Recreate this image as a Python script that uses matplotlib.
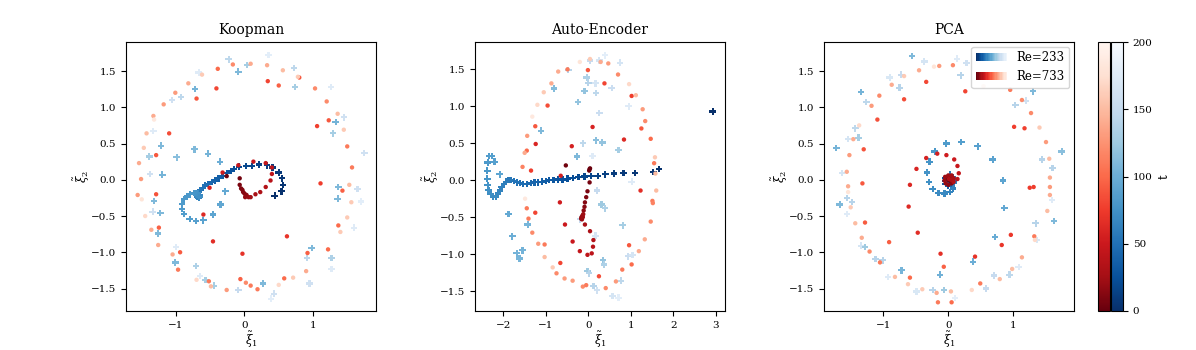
import numpy as np
import matplotlib
matplotlib.use("Agg")
import matplotlib.pyplot as plt
from matplotlib.legend_handler import HandlerBase
from matplotlib.patches import Rectangle
from matplotlib.colors import Normalize
from matplotlib.cm import ScalarMappable

plt.rcParams['font.family'] = 'DejaVu Serif'
plt.rcParams['mathtext.fontset'] = 'dejavuserif'

titles = ["Koopman", "Auto-Encoder", "PCA"]
labels = ["Re=233", "Re=733"]
t_min, t_max = 0, 200
cb_ticks = [0, 50, 100, 150, 200]

# (x, y, t) per point
koop_blue = [
    (0.44,-0.22,0),(0.54,-0.16,2),(0.56,-0.07,4),(0.55,0.02,6),(0.50,0.10,8),(0.41,0.17,10),(0.33,0.20,12),
    (0.21,0.21,14),(0.11,0.19,16),(0.02,0.19,18),(-0.08,0.18,21),(-0.15,0.15,24),(-0.20,0.12,27),(-0.26,0.09,30),
    (-0.32,0.05,33),(-0.38,0.02,36),(-0.43,-0.01,39),(-0.48,-0.03,42),(-0.53,-0.06,45),(-0.58,-0.08,48),
    (-0.61,-0.11,51),(-0.65,-0.14,54),(-0.67,-0.17,57),(-0.68,-0.20,60),(-0.66,-0.22,62),(-0.69,-0.23,64),
    (-0.67,-0.25,66),(-0.65,-0.21,68),(-0.70,-0.21,70),(-0.68,-0.19,72),(-0.66,-0.24,74),(-0.70,-0.18,76),
    (-0.74,-0.18,78),(-0.79,-0.20,80),(-0.84,-0.23,81),(-0.88,-0.27,82),(-0.91,-0.33,83),(-0.91,-0.40,84),
    (-0.88,-0.47,85),(-0.80,-0.54,86),(-0.71,-0.57,88),(-0.60,-0.56,90),(-0.46,-0.48,92),(-0.35,-0.34,94),
    (-0.28,-0.16,96),(-0.36,0.25,100),(-0.53,0.36,105),(-0.73,0.42,110),(-0.99,0.31,115),
    (-0.23,1.66,145),(0.35,1.72,180),(0.04,1.58,130),(0.72,1.54,145),(-0.09,1.49,110),(-0.67,1.48,175),
    (0.74,1.28,130),(1.26,1.28,175),(-0.72,1.25,105),(-0.93,1.14,145),(-1.06,1.10,160),(1.33,0.80,105),
    (1.45,0.86,160),(-1.33,0.67,175),(1.29,0.64,130),(-1.22,0.47,110),(1.75,0.37,160),(-1.39,0.32,130),
    (-1.38,0.08,160),(-1.20,0.07,105),(1.37,-0.10,110),(1.65,-0.13,160),(-1.32,-0.29,110),(1.36,-0.26,110),
    (1.70,-0.30,180),(-1.34,-0.44,160),(-1.23,-0.46,110),(-1.26,-0.74,110),(1.60,-0.66,175),(0.98,-0.94,110),
    (0.91,-1.08,145),(-1.00,-0.93,175),(1.27,-1.08,135),(-1.01,-1.14,110),(1.27,-1.23,175),(-0.71,-1.19,135),
    (-0.65,-1.33,175),(-0.57,-1.38,130),(-0.45,-1.46,130),(0.27,-1.43,110),(0.95,-1.43,160),(-0.09,-1.52,150),
    (0.43,-1.57,160),(0.39,-1.64,180),
]
koop_red = [
    (-0.26,0.05,2),(-0.07,0.02,5),(-0.07,-0.07,8),(-0.05,-0.12,10),(-0.03,-0.14,11),(-0.02,-0.17,12),
    (0.00,-0.19,14),(0.03,-0.21,16),(0.02,-0.22,17),(0.01,-0.24,18),(0.06,-0.24,20),(0.09,-0.24,24),
    (0.16,-0.20,28),(0.23,-0.17,31),(0.31,-0.10,34),(0.38,-0.01,37),(0.40,0.08,40),(0.40,0.17,42),
    (0.31,0.23,44),(0.13,0.25,46),(-0.09,0.20,48),(-0.32,0.10,52),(-0.51,-0.11,56),(-0.60,-0.48,62),
    (-0.46,-0.85,65),(-0.03,-1.02,68),(0.62,-0.78,70),(1.11,-0.05,75),(1.06,0.74,78),(0.34,1.36,80),
    (-0.41,1.26,82),(-1.10,0.64,85),(-1.29,-0.20,88),(-0.94,-1.00,92),(-0.06,-1.37,95),(0.92,-1.01,95),
    (1.43,-0.15,95),(1.23,0.82,90),(0.50,1.30,95),(-0.70,1.12,90),(-1.29,0.34,90),(-1.25,-0.66,95),
    (1.22,-0.96,100),(1.37,-0.63,100),(0.58,-1.36,100),(-0.39,1.53,100),(0.80,1.41,90),(1.50,0.46,110),
    (1.57,0.17,110),(-0.52,-1.40,110),(-0.97,-1.24,110),(0.09,-1.46,110),(0.19,-1.51,110),(0.02,-1.42,120),
    (1.03,1.26,120),(1.20,1.08,120),(-0.17,1.59,120),(-1.51,0.01,130),(-1.56,-0.21,130),(-1.01,1.20,130),
    (-1.18,1.04,130),(-0.26,-1.52,130),(-1.54,0.23,140),(-1.33,0.88,140),(-0.82,1.33,140),(0.09,1.60,140),
    (0.33,1.58,140),(-1.36,-0.69,140),(-1.26,-0.90,140),(-1.05,-1.03,140),(0.90,-1.26,140),(1.36,0.91,150),
    (-1.43,0.64,150),(1.53,-0.07,150),(-0.49,-1.47,150),(0.56,1.51,150),(-1.47,0.44,160),(-0.62,1.45,160),
    (1.45,0.69,160),(1.56,-0.31,160),(1.50,-0.52,160),(1.40,-0.72,160),(0.71,-1.35,160),(-1.45,-0.50,170),
    (-0.70,-1.38,170),(0.50,-1.45,170),(-1.50,-0.27,180),(-1.32,0.83,185),(0.78,1.42,160),
]
ae_blue = [
    (2.93,0.93,0),(1.67,0.15,2),(1.53,0.11,4),(1.10,0.10,6),(0.83,0.10,8),(0.60,0.09,10),(0.40,0.08,12),
    (0.23,0.06,14),(0.07,0.06,16),(-0.09,0.05,18),(-0.23,0.04,20),(-0.37,0.03,22),(-0.49,0.02,24),
    (-0.61,0.01,26),(-0.72,0.01,28),(-0.82,0.00,30),(-0.92,0.00,32),(-1.00,-0.01,34),(-1.10,-0.02,36),
    (-1.18,-0.03,38),(-1.27,-0.03,40),(-1.36,-0.04,42),(-1.44,-0.05,44),(-1.53,-0.05,46),(-1.61,-0.04,48),
    (-1.69,-0.03,50),(-1.76,-0.01,52),(-1.83,0.00,54),(-1.88,0.00,56),(-1.94,-0.02,58),(-1.99,-0.05,60),
    (-2.04,-0.09,62),(-2.08,-0.14,64),(-2.13,-0.18,66),(-2.18,-0.22,68),(-2.24,-0.22,70),(-2.30,-0.19,72),
    (-2.35,-0.13,74),(-2.37,-0.07,76),(-2.38,0.02,78),(-2.38,0.13,80),(-2.37,0.24,82),(-2.34,0.33,84),
    (-2.27,0.33,86),(-2.21,0.25,88),(-2.09,0.08,92),(-1.88,-0.46,96),(-1.79,-0.76,100),(-1.69,-0.99,104),
    (-1.55,-0.95,104),(-1.62,-1.06,106),(-1.43,-0.60,106),(-1.11,0.67,110),(-0.81,1.24,112),(-0.47,1.49,140),
    (-0.24,1.06,120),(-0.09,1.21,120),(-0.04,1.39,135),(0.00,1.32,140),(0.18,1.18,145),(0.26,0.91,155),
    (0.17,1.31,165),(0.04,1.62,150),(0.26,1.62,165),(0.39,1.69,180),(0.75,1.59,165),(0.55,1.25,155),
    (0.95,1.00,175),(0.18,0.54,115),(0.33,0.51,120),(-0.12,0.50,145),(-0.27,0.32,110),(0.10,0.33,175),
    (0.71,0.41,130),(1.02,-0.02,175),(0.21,-0.14,150),(0.31,-0.33,125),(0.39,-0.38,135),(0.81,-0.61,130),
    (0.17,-0.75,165),(-0.20,-0.53,150),(0.34,-1.08,120),(0.37,-1.14,135),(0.94,-1.03,155),(-0.02,-1.23,125),
    (0.02,-1.26,140),(0.12,-1.43,140),(0.20,-1.49,160),(0.57,-1.57,165),(0.71,-1.59,180),(0.77,-1.36,145),
    (1.04,-1.01,165),
]
ae_red = [
    (0.04,0.16,0),(0.02,0.13,1),(0.03,0.15,2),(-0.53,0.20,4),(0.03,-0.03,6),(-0.02,-0.15,8),(-0.05,-0.23,10),
    (-0.08,-0.30,12),(-0.09,-0.36,14),(-0.11,-0.41,16),(-0.16,-0.50,18),(-0.14,-0.48,19),(-0.17,-0.52,20),
    (-0.15,-0.53,21),(-0.13,-0.50,22),(-0.12,-0.46,23),(-0.08,-0.60,28),(0.04,-0.69,31),(0.12,-0.81,34),
    (0.11,-0.90,37),(0.08,-0.99,40),(-0.02,-1.01,42),(-0.20,-0.96,45),(-0.37,-0.83,48),(-0.55,-0.60,50),
    (-0.67,-0.30,53),(-0.65,0.06,55),(-0.39,0.46,57),(0.10,0.72,58),(0.84,0.55,62),(1.23,-0.14,66),
    (1.02,1.14,75),(0.38,1.31,80),(-0.01,1.49,90),(-0.96,1.01,85),(-1.25,0.73,90),(-1.45,0.40,100),
    (-1.55,0.18,115),(-1.45,-0.38,110),(-1.25,-0.44,80),(-1.41,-0.52,110),(-1.32,-0.71,120),(-1.18,-0.86,130),
    (-1.03,-0.87,110),(-1.03,-1.04,150),(-0.84,-1.18,160),(-0.66,-1.12,80),(-0.75,-1.26,120),(-0.56,-1.33,130),
    (-0.37,-1.36,130),(-0.13,-1.44,120),(-0.05,-1.42,110),(0.25,-1.30,85),(0.41,-1.46,120),(0.65,-1.37,130),
    (0.80,-1.21,110),(1.02,-1.14,100),(0.96,-0.88,90),(1.19,-0.96,140),(1.33,-0.80,140),(1.47,-0.56,120),
    (1.51,-0.28,110),(1.52,-0.31,115),(1.60,-0.14,150),(1.58,0.09,150),(1.55,0.23,110),(1.57,0.31,160),
    (1.47,0.56,100),(1.34,0.80,120),(1.28,0.96,130),(1.25,0.70,90),(1.12,1.15,150),(0.96,1.30,170),
    (0.70,1.43,120),(0.47,1.58,130),(0.29,1.60,140),(0.04,1.64,160),(-0.20,1.60,180),(-0.49,1.50,110),
    (-0.71,1.47,140),(-0.87,1.31,140),(-1.05,1.19,160),(-1.20,1.02,170),(-1.32,0.86,185),(-1.44,0.60,130),
    (-1.50,0.37,140),(-1.49,-0.25,185),(-1.35,0.13,75),(-1.24,0.49,60),
]
pca_blue = [
    (0.03,-0.01,0),(0.02,0.01,3),(0.00,0.00,6),(0.07,-0.02,10),(0.06,0.02,14),(0.03,0.04,18),(-0.01,0.04,22),
    (-0.04,0.02,26),(-0.05,-0.02,30),(-0.04,-0.06,34),(0.00,-0.08,38),(0.04,-0.07,42),(0.07,-0.05,46),
    (0.08,-0.01,50),(0.07,0.04,54),(0.03,0.07,58),
    (0.09,-0.05,62),(0.07,-0.12,64),(0.02,-0.17,66),(-0.06,-0.19,68),(-0.15,-0.18,70),(-0.24,-0.13,72),
    (-0.30,-0.03,74),(-0.33,0.10,76),(-0.29,0.25,78),(-0.21,0.39,80),(-0.03,0.50,83),(0.20,0.52,86),
    (0.45,0.46,88),(0.68,0.28,90),(0.84,-0.01,92),(0.86,-0.39,95),(0.72,-0.79,98),(0.38,-1.13,100),
    (-0.13,-1.31,103),(-0.72,-1.25,106),
    (-0.56,1.71,110),(-0.37,1.63,165),(0.13,1.67,175),(0.28,1.61,160),(0.19,1.44,140),(-0.90,1.41,170),
    (-0.73,1.45,150),(-0.75,1.27,140),(-1.34,1.21,105),(-1.26,1.07,145),(1.30,1.22,110),(1.19,1.09,160),
    (1.03,1.03,140),(-1.43,0.71,145),(-1.38,0.58,130),(-1.54,0.56,165),(-1.72,0.44,105),(1.74,0.39,115),
    (1.44,0.28,140),(1.60,0.16,140),(-1.63,0.09,165),(-1.56,-0.25,140),(-1.48,-0.31,140),(-1.67,-0.34,110),
    (-1.56,-0.47,175),(1.59,-0.28,175),(1.62,-0.57,110),(1.34,-0.60,140),(1.36,-0.83,170),(-1.34,-0.91,165),
    (-1.28,-0.93,125),(-1.12,-1.09,140),(-1.01,-1.11,140),(1.08,-1.20,175),(0.94,-1.31,145),(0.70,-1.32,150),
    (-0.93,-1.34,175),(0.58,-1.50,150),(-0.49,-1.54,170),(-0.24,-1.52,140),(-0.07,-1.52,125),(0.10,-1.63,180),
]
pca_red = [
    (0.02,-0.01,0),(0.00,0.00,2),(0.01,0.02,4),(-0.02,0.04,6),(0.03,0.05,8),(0.06,0.03,10),(0.07,-0.01,12),
    (0.05,-0.05,14),(0.00,-0.07,16),(-0.04,-0.05,18),(-0.06,-0.01,20),(-0.05,0.04,22),(0.00,0.06,24),
    (0.05,0.06,26),(0.08,0.02,28),(0.04,0.00,30),(0.01,0.01,32),(0.08,-0.03,35),
    (0.14,0.01,40),(0.16,0.09,44),(0.14,0.19,47),(0.09,0.28,50),(-0.03,0.34,53),(-0.17,0.36,55),
    (-0.34,0.30,57),(-0.49,0.15,59),(-0.59,-0.07,61),(-0.61,-0.37,63),(-0.47,-0.73,65),(-0.12,-1.02,67),
    (0.41,-1.06,69),(0.82,-0.90,71),(0.96,-0.76,72),(1.25,-0.11,74),(1.31,-0.10,75),(1.01,0.73,76),
    (1.17,0.71,78),(0.26,1.22,80),(-0.34,1.35,82),(-0.68,1.11,84),(-1.09,0.83,86),(-1.30,0.42,88),
    (-1.32,-0.05,90),(-1.28,-0.59,92),(-0.91,-0.86,94),(-0.07,-1.20,96),(-0.59,-1.35,100),(0.49,-1.43,110),
    (1.32,-0.78,110),(1.56,-0.10,130),(1.56,0.03,140),(1.55,0.29,150),(1.40,0.72,160),(1.50,0.52,130),
    (1.27,0.92,120),(1.13,1.10,120),(0.95,1.24,110),(0.07,1.58,120),(-0.14,1.57,130),(-0.45,1.51,140),
    (-0.68,1.43,160),(-0.87,1.31,140),(-1.06,1.16,120),(-1.18,1.02,130),(-1.37,0.75,170),(-1.46,0.56,140),
    (-1.52,0.34,130),(-1.56,0.11,140),(-1.54,-0.09,140),(-1.54,-0.17,180),(-1.50,-0.38,160),(-1.43,-0.60,150),
    (-1.33,-0.80,140),(-1.21,-0.99,120),(-1.05,-1.14,110),(-0.82,-1.34,150),(-0.62,-1.44,160),(-0.40,-1.51,160),
    (-0.18,-1.56,140),(0.04,-1.54,150),(0.36,-1.52,170),(0.79,-1.37,150),(0.98,-1.23,150),(1.13,-1.07,140),
    (1.33,-0.83,170),(1.52,-0.43,150),(1.56,-0.21,140),(-0.22,1.56,180),(0.54,1.29,180),(-0.16,-1.69,110),
    (0.05,-1.69,100),
]

blue_sets = [koop_blue, ae_blue, pca_blue]
red_sets = [koop_red, ae_red, pca_red]
xlims = [(-1.73, 1.92), (-2.67, 3.22), (-1.91, 1.93)]
ylims = [(-1.81, 1.90), (-1.77, 1.87), (-1.81, 1.90)]
xticks = [[-1, 0, 1], [-2, -1, 0, 1, 2, 3], [-1, 0, 1]]
yticks = [-1.5, -1.0, -0.5, 0.0, 0.5, 1.0, 1.5]

cmap_b = plt.get_cmap('Blues_r')
cmap_r = plt.get_cmap('Reds_r')
norm = Normalize(t_min, t_max)

fig = plt.figure(figsize=(11.96, 3.5), dpi=100)
lefts = [126/1196, 475/1196, 824/1196]
bottom, width, height = 39/350, 250/1196, 269/350
axes = [fig.add_axes([l, bottom, width, height]) for l in lefts]

for i, ax in enumerate(axes):
    b = np.array(blue_sets[i], dtype=float)
    r = np.array(red_sets[i], dtype=float)
    ax.scatter(b[:, 0], b[:, 1], c=b[:, 2], cmap=cmap_b, norm=norm, marker='P', s=22, linewidths=0)
    ax.scatter(r[:, 0], r[:, 1], c=r[:, 2], cmap=cmap_r, norm=norm, marker='o', s=10, linewidths=0)
    ax.set_xlim(*xlims[i]); ax.set_ylim(*ylims[i])
    ax.set_xticks(xticks[i]); ax.set_yticks(yticks)
    ax.tick_params(labelsize=7.5, length=3.5, width=0.8)
    ax.set_title(titles[i], fontsize=10)
    ax.set_xlabel(r'$\tilde{\xi}_1$', fontsize=8.5, labelpad=0)
    ax.set_ylabel(r'$\tilde{\xi}_2$', fontsize=8.5, labelpad=-1)


class GradHandler(HandlerBase):
    def __init__(self, cmap, n=24):
        super().__init__()
        self.cmap = cmap
        self.n = n

    def create_artists(self, legend, orig_handle, xdescent, ydescent, width, height, fontsize, trans):
        arts = []
        w = width / self.n
        for k in range(self.n):
            arts.append(Rectangle((-xdescent + k * w, -ydescent), w * 1.05, height,
                                  facecolor=self.cmap(k / (self.n - 1) * 0.95), edgecolor='none',
                                  transform=trans))
        return arts


h1 = Rectangle((0, 0), 1, 1)
h2 = Rectangle((0, 0), 1, 1)
axes[2].legend([h1, h2], labels, loc='upper right', fontsize=8.5,
               handler_map={h1: GradHandler(cmap_b), h2: GradHandler(cmap_r)},
               handlelength=2.6, borderaxespad=0.4)

cax_r = fig.add_axes([1098/1196, bottom, 12.4/1196, height])
cax_b = fig.add_axes([1110.6/1196, bottom, 12.4/1196, height])
cr = fig.colorbar(ScalarMappable(norm=norm, cmap=cmap_r), cax=cax_r)
cr.set_ticks([])
cb = fig.colorbar(ScalarMappable(norm=norm, cmap=cmap_b), cax=cax_b)
cb.set_ticks(cb_ticks)
cb.ax.tick_params(labelsize=7.5, length=3.5)
cb.set_label('t', fontsize=8.5)

fig.savefig('out.png', dpi=100)
